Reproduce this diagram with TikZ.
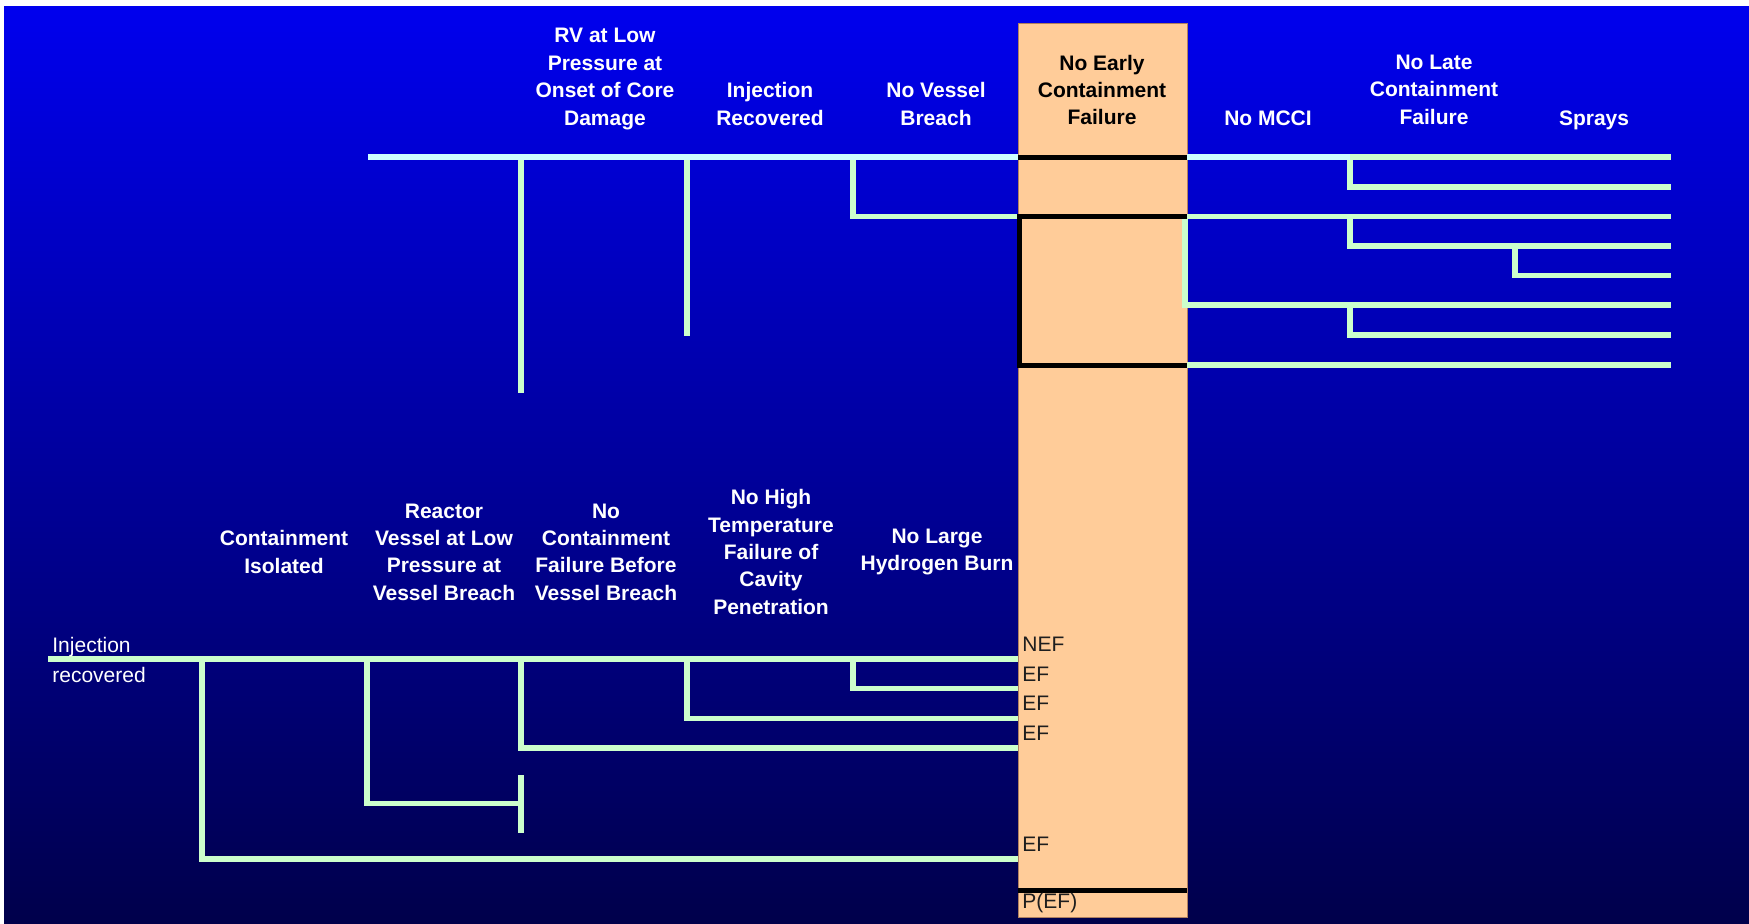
\documentclass[tikz,border=0pt]{standalone}
\usepackage{fontspec}
\setmainfont{Liberation Sans}
\definecolor{bgtop}{RGB}{0,0,238}
\definecolor{bgmid}{RGB}{0,0,200}
\definecolor{bgbot}{RGB}{0,0,75}
\definecolor{lgreen}{RGB}{204,255,204}
\definecolor{lcyan}{RGB}{204,255,255}
\definecolor{peach}{RGB}{255,204,153}
\definecolor{peachedge}{RGB}{176,128,96}
\definecolor{darktext}{RGB}{30,30,30}
\begin{document}
\begin{tikzpicture}[x=0.5pt,y=-0.5pt,line join=miter,
  grn/.style={draw=lgreen, line width=2.75pt},
  cyn/.style={draw=lcyan, line width=2.75pt},
  blk/.style={draw=black, line width=2.5pt},
  hdr/.style={font=\fontsize{10.5}{13.7}\selectfont\bfseries, text=white, align=center, inner sep=0pt},
  hdrdark/.style={hdr, text=black},
  outlbl/.style={font=\fontsize{10.5}{12}\selectfont, text=darktext, anchor=west, inner sep=0pt},
  inlbl/.style={font=\fontsize{10.5}{15}\selectfont, text=white, align=left, anchor=west, inner sep=0pt}]
\useasboundingbox (0,0) rectangle (1749,923);
\fill[white] (0,0) rectangle (1749,923);
\shade[top color=bgtop, middle color=bgmid, bottom color=bgbot] (4,6) rectangle (1749,923);
% peach column
\filldraw[fill=peach, draw=peachedge, line width=0.5pt] (1018,23) rectangle (1187,917);

% ---- top tree coordinates
\coordinate (ts) at (368,157);
\coordinate (ta) at (521,157);
\coordinate (tb) at (687,157);
\coordinate (tc) at (853,157);
\coordinate (oL0) at (1018,157);
\coordinate (oR0) at (1187,157);
\coordinate (oL2) at (1018,216.5);
\coordinate (oR2) at (1187,216.5);
\coordinate (oL7) at (1018,365);
\coordinate (oR7) at (1187,365);
\coordinate (td0) at (1350,157);
\coordinate (td2) at (1350,216.5);
\coordinate (td5) at (1350,305);
\coordinate (te3) at (1515,246);
\coordinate (tg) at (1185,216.5);
\coordinate (e0) at (1671,157);
\coordinate (e1) at (1671,187);
\coordinate (e2) at (1671,216.5);
\coordinate (e3) at (1671,246);
\coordinate (e4) at (1671,275.5);
\coordinate (e5) at (1671,305);
\coordinate (e6) at (1671,335);
\coordinate (e7) at (1671,365);
\coordinate (taend) at (521,393);
\coordinate (tbend) at (687,336);

\draw[grn] (ta) -- (taend);
\draw[grn] (tb) -- (tbend);
\draw[grn] (tc) |- (oL2);
\draw[cyn] (ts) -- (oL0);
\draw[grn] (td0) |- (e1);
\draw[cyn] (oR0) -- (td0);
\draw[grn] (td0) -- (e0);
\draw[grn] (oR2) -- (e2);
\draw[grn] (td2) |- (e3);
\draw[grn] (te3) |- (e4);
\draw[grn] (tg) |- (e5);
\draw[grn] (td5) |- (e6);
\draw[grn] (oR7) -- (e7);

% ---- bottom tree coordinates
\coordinate (bs) at (48,659);
\coordinate (bp) at (202,659);
\coordinate (bq) at (367,659);
\coordinate (ba) at (521,659);
\coordinate (bb) at (687,659);
\coordinate (bc) at (853,659);
\coordinate (f0) at (1018,659);
\coordinate (f1) at (1018,688.6);
\coordinate (f2) at (1018,718.3);
\coordinate (f3) at (1018,747.9);
\coordinate (f5) at (1018,859);
\coordinate (tj) at (521,803.5);
\coordinate (tt) at (521,775);
\coordinate (tbot) at (521,833);

\draw[grn] (bc) |- (f1);
\draw[grn] (bb) |- (f2);
\draw[grn] (ba) |- (f3);
\draw[grn] (bq) |- (tj);
\draw[grn] (tt) -- (tbot);
\draw[grn] (bp) |- (f5);
\draw[grn] (bs) -- (f0);

% ---- black lines in column
\draw[blk] (oL0) -- (oR0);
\draw[blk] (oR2) -- (1019.5,216.5) -- (1019.5,365) -- (oR7);
\coordinate (pL) at (1018,890);
\coordinate (pR) at (1187,890);
\draw[blk] (pL) -- (pR);

% ---- top headers
\node[hdr, anchor=north] (h1) at (605,28) {RV at Low\\Pressure at\\Onset of Core\\Damage};
\node[hdr, anchor=north] (h2) at (770,82) {Injection\\Recovered};
\node[hdr, anchor=north] (h3) at (936,82) {No Vessel\\Breach};
\node[hdrdark, anchor=north] (h4) at (1102,54.5) {No Early\\Containment\\Failure};
\node[hdr, anchor=north] (h5) at (1268,110) {No MCCI};
\node[hdr, anchor=north] (h6) at (1434,54.5) {No Late\\Containment\\Failure};
\node[hdr, anchor=north] (h7) at (1594,110) {Sprays};

% ---- bottom headers
\node[hdr] (g1) at (284,552) {Containment\\Isolated};
\node[hdr] (g2) at (444,552) {Reactor\\Vessel at Low\\Pressure at\\Vessel Breach};
\node[hdr] (g3) at (606,552) {No\\Containment\\Failure Before\\Vessel Breach};
\node[hdr] (g4) at (771,552) {No High\\Temperature\\Failure of\\Cavity\\Penetration};
\node[hdr] (g5) at (937,552) {No Large\\Hydrogen Burn};

% ---- start label
\node[inlbl] (inj) at (52,660) {Injection\\recovered};

% ---- outcome labels
\node[outlbl] (o1) at (1022,644) {NEF};
\node[outlbl] (o2) at (1022,674) {EF};
\node[outlbl] (o3) at (1022,703) {EF};
\node[outlbl] (o4) at (1022,733) {EF};
\node[outlbl] (o5) at (1022,844) {EF};
\node[outlbl] (o6) at (1022,903) {P(EF)};
\end{tikzpicture}
\end{document}
